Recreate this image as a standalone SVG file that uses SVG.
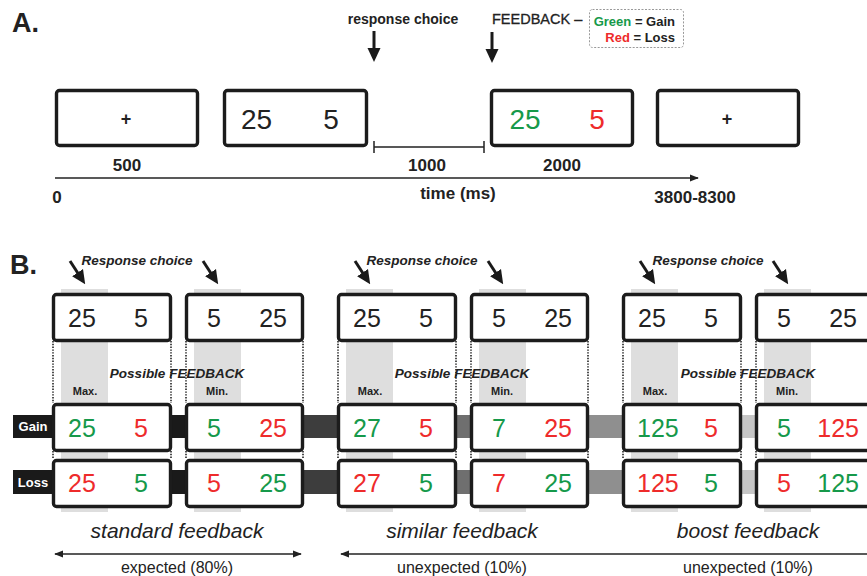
<svg xmlns="http://www.w3.org/2000/svg" width="867" height="576" viewBox="0 0 867 576">
  <defs>
    <style>
      text { font-family: "Liberation Sans", Arial, sans-serif; fill: #222; }
      .b { font-weight: bold; }
      .bi { font-weight: bold; font-style: italic; }
      .it { font-style: italic; }
      .panel { font-size: 27px; font-weight: bold; }
      .box { fill: #fff; stroke: #1c1c1c; stroke-width: 3.4; }
      .num { font-size: 28px; }
      .bn { font-size: 25px; }
      .g { fill: #16994a; }
      .r { fill: #ee2b2b; }
      .tick { font-size: 17px; font-weight: bold; }
      .axis { stroke: #222; stroke-width: 1.5; fill: none; }
      .shade { fill: #dedede; }
      .dots { stroke: #222; stroke-width: 1.6; stroke-dasharray: 1.4 1.4; fill: none; }
      .ptr { stroke: #1a1a1a; stroke-width: 3; fill: none; }
      .rowlbl { font-size: 13px; font-weight: bold; fill: #fff; }
    </style>
    <marker id="head" viewBox="0 0 14 14" refX="10" refY="7" markerWidth="14" markerHeight="14" markerUnits="userSpaceOnUse" orient="auto">
      <path d="M0,0.5 L14,7 L0,13.5 Z" fill="#1a1a1a"/>
    </marker>
    <marker id="tip" viewBox="0 0 10 10" refX="9" refY="5" markerWidth="6" markerHeight="6" orient="auto-start-reverse">
      <path d="M0,1 L10,5 L0,9 Z" fill="#222"/>
    </marker>
  </defs>

  <!-- ===== Panel A: trial timeline ===== -->
  <text class="panel" x="12" y="32">A.</text>

  <g id="a-fix1">
    <rect class="box" x="56.5" y="90.5" width="141" height="55" rx="3"/>
    <text class="b" x="126" y="125" font-size="18" text-anchor="middle">+</text>
  </g>
  <g id="a-choice">
    <rect class="box" x="224.5" y="90.5" width="142" height="55" rx="3"/>
    <text class="num" x="241" y="129">25</text>
    <text class="num" x="331" y="129" text-anchor="middle">5</text>
  </g>
  <g id="a-feedback">
    <rect class="box" x="491.5" y="90.5" width="141" height="55" rx="3"/>
    <text class="num g" x="525" y="129" text-anchor="middle">25</text>
    <text class="num r" x="597" y="129" text-anchor="middle">5</text>
  </g>
  <g id="a-fix2">
    <rect class="box" x="657.5" y="90.5" width="141" height="55" rx="3"/>
    <text class="b" x="727" y="125" font-size="18" text-anchor="middle">+</text>
  </g>

  <g id="a-annotations">
    <text class="b" x="403" y="24" font-size="14" text-anchor="middle">response choice</text>
    <text x="492" y="24" font-size="14.5" stroke="#222" stroke-width="0.3">FEEDBACK –</text>
    <g id="legend">
      <rect x="589.5" y="9.5" width="94" height="38" rx="3" fill="#fff" stroke="#999" stroke-width="1" stroke-dasharray="2 1.5"/>
      <text class="b" x="675" y="26" font-size="13" text-anchor="end"><tspan class="g">Green</tspan> = Gain</text>
      <text class="b" x="675" y="42" font-size="13" text-anchor="end"><tspan class="r">Red</tspan> = Loss</text>
    </g>
  </g>

  <g id="a-connectors">
    <line class="ptr" x1="374" y1="31" x2="374" y2="58" marker-end="url(#head)"/>
    <line class="ptr" x1="492" y1="32" x2="492" y2="59" marker-end="url(#head)"/>
    <!-- 1000 ms interval bracket -->
    <path class="axis" d="M374,141 V153 M374,147 H484 M484,141 V153"/>
    <!-- time axis -->
    <line class="axis" x1="55" y1="178" x2="698" y2="178" marker-end="url(#tip)"/>
  </g>

  <g id="a-times">
    <text class="tick" x="127" y="171" text-anchor="middle">500</text>
    <text class="tick" x="427" y="171" text-anchor="middle">1000</text>
    <text class="tick" x="562" y="171" text-anchor="middle">2000</text>
    <text class="tick" x="57" y="203" text-anchor="middle">0</text>
    <text class="tick" x="458" y="199" text-anchor="middle" font-size="18">time (ms)</text>
    <text class="tick" x="695" y="203" text-anchor="middle" font-size="18">3800-8300</text>
  </g>

  <!-- ===== Panel B: feedback conditions ===== -->
  <text class="panel" x="10" y="274">B.</text>

  <!-- Gain / Loss row bands -->
  <g id="row-bands">
    <rect x="13" y="415" width="40" height="23" fill="#1a1a1a"/>
    <rect x="13" y="470" width="40" height="24" fill="#1a1a1a"/>
    <text class="rowlbl" x="33" y="431" text-anchor="middle">Gain</text>
    <text class="rowlbl" x="33" y="487" text-anchor="middle">Loss</text>
    <rect x="170" y="415" width="16" height="23" fill="#1a1a1a"/>
    <rect x="170" y="470" width="16" height="24" fill="#1a1a1a"/>
    <rect x="302" y="415" width="36" height="23" fill="#3d3d3d"/>
    <rect x="302" y="470" width="36" height="24" fill="#3d3d3d"/>
    <rect x="456" y="415" width="14" height="23" fill="#6f6f6f"/>
    <rect x="456" y="470" width="14" height="24" fill="#6f6f6f"/>
    <rect x="587" y="415" width="36" height="23" fill="#8f8f8f"/>
    <rect x="587" y="470" width="36" height="24" fill="#8f8f8f"/>
    <rect x="741" y="415" width="14" height="23" fill="#c6c6c6"/>
    <rect x="741" y="470" width="14" height="24" fill="#c6c6c6"/>
  </g>

  <!-- standard feedback -->
  <g id="standard" transform="translate(52,0)">
    <rect class="shade" x="9" y="289" width="47" height="223"/>
    <rect class="shade" x="142" y="289" width="47" height="223"/>
    <path class="dots" d="M1,341 V403 M119,341 V403 M134,341 V403 M251,341 V403 M1,451 V459 M119,451 V459 M134,451 V459 M251,451 V459"/>
    <text class="bi" x="85" y="265" font-size="13.5" text-anchor="middle">Response choice</text>
    <line class="ptr" x1="18" y1="261" x2="31" y2="281" marker-end="url(#head)"/>
    <line class="ptr" x1="151" y1="261" x2="164" y2="281" marker-end="url(#head)"/>
    <g id="standard-choice-max">
      <rect class="box" x="1.5" y="294.5" width="117" height="46" rx="3"/>
      <text class="bn" x="16" y="327">25</text>
      <text class="bn" x="96" y="327" text-anchor="end">5</text>
    </g>
    <g id="standard-choice-min">
      <rect class="box" x="134.5" y="294.5" width="116" height="46" rx="3"/>
      <text class="bn" x="155" y="327">5</text>
      <text class="bn" x="235" y="327" text-anchor="end">25</text>
    </g>
    <text class="bi" x="125" y="378" font-size="13.5" text-anchor="middle">Possible FEEDBACK</text>
    <text class="b" x="33" y="395" font-size="11" text-anchor="middle">Max.</text>
    <text class="b" x="165" y="395" font-size="11" text-anchor="middle">Min.</text>
    <g id="standard-gain-max">
      <rect class="box" x="1.5" y="404.5" width="117" height="46" rx="3"/>
      <text class="bn g" x="16" y="437">25</text>
      <text class="bn r" x="96" y="437" text-anchor="end">5</text>
    </g>
    <g id="standard-gain-min">
      <rect class="box" x="134.5" y="404.5" width="116" height="46" rx="3"/>
      <text class="bn g" x="155" y="437">5</text>
      <text class="bn r" x="235" y="437" text-anchor="end">25</text>
    </g>
    <g id="standard-loss-max">
      <rect class="box" x="1.5" y="460.5" width="117" height="46" rx="3"/>
      <text class="bn r" x="16" y="492">25</text>
      <text class="bn g" x="96" y="492" text-anchor="end">5</text>
    </g>
    <g id="standard-loss-min">
      <rect class="box" x="134.5" y="460.5" width="116" height="46" rx="3"/>
      <text class="bn r" x="155" y="492">5</text>
      <text class="bn g" x="235" y="492" text-anchor="end">25</text>
    </g>
    <text class="it" x="125" y="538" font-size="21" text-anchor="middle">standard feedback</text>
  </g>

  <!-- similar feedback -->
  <g id="similar" transform="translate(337,0)">
    <rect class="shade" x="9" y="289" width="47" height="223"/>
    <rect class="shade" x="142" y="289" width="47" height="223"/>
    <path class="dots" d="M1,341 V403 M119,341 V403 M134,341 V403 M251,341 V403 M1,451 V459 M119,451 V459 M134,451 V459 M251,451 V459"/>
    <text class="bi" x="85" y="265" font-size="13.5" text-anchor="middle">Response choice</text>
    <line class="ptr" x1="18" y1="261" x2="31" y2="281" marker-end="url(#head)"/>
    <line class="ptr" x1="151" y1="261" x2="164" y2="281" marker-end="url(#head)"/>
    <g id="similar-choice-max">
      <rect class="box" x="1.5" y="294.5" width="117" height="46" rx="3"/>
      <text class="bn" x="16" y="327">25</text>
      <text class="bn" x="96" y="327" text-anchor="end">5</text>
    </g>
    <g id="similar-choice-min">
      <rect class="box" x="134.5" y="294.5" width="116" height="46" rx="3"/>
      <text class="bn" x="155" y="327">5</text>
      <text class="bn" x="235" y="327" text-anchor="end">25</text>
    </g>
    <text class="bi" x="125" y="378" font-size="13.5" text-anchor="middle">Possible FEEDBACK</text>
    <text class="b" x="33" y="395" font-size="11" text-anchor="middle">Max.</text>
    <text class="b" x="165" y="395" font-size="11" text-anchor="middle">Min.</text>
    <g id="similar-gain-max">
      <rect class="box" x="1.5" y="404.5" width="117" height="46" rx="3"/>
      <text class="bn g" x="16" y="437">27</text>
      <text class="bn r" x="96" y="437" text-anchor="end">5</text>
    </g>
    <g id="similar-gain-min">
      <rect class="box" x="134.5" y="404.5" width="116" height="46" rx="3"/>
      <text class="bn g" x="155" y="437">7</text>
      <text class="bn r" x="235" y="437" text-anchor="end">25</text>
    </g>
    <g id="similar-loss-max">
      <rect class="box" x="1.5" y="460.5" width="117" height="46" rx="3"/>
      <text class="bn r" x="16" y="492">27</text>
      <text class="bn g" x="96" y="492" text-anchor="end">5</text>
    </g>
    <g id="similar-loss-min">
      <rect class="box" x="134.5" y="460.5" width="116" height="46" rx="3"/>
      <text class="bn r" x="155" y="492">7</text>
      <text class="bn g" x="235" y="492" text-anchor="end">25</text>
    </g>
    <text class="it" x="125" y="538" font-size="21" text-anchor="middle">similar feedback</text>
  </g>

  <!-- boost feedback -->
  <g id="boost" transform="translate(622,0)">
    <rect class="shade" x="9" y="289" width="47" height="223"/>
    <rect class="shade" x="142" y="289" width="47" height="223"/>
    <path class="dots" d="M1,341 V403 M119,341 V403 M134,341 V403 M251,341 V403 M1,451 V459 M119,451 V459 M134,451 V459 M251,451 V459"/>
    <text class="bi" x="86" y="265" font-size="13.5" text-anchor="middle">Response choice</text>
    <line class="ptr" x1="18" y1="261" x2="31" y2="281" marker-end="url(#head)"/>
    <line class="ptr" x1="151" y1="261" x2="164" y2="281" marker-end="url(#head)"/>
    <g id="boost-choice-max">
      <rect class="box" x="1.5" y="294.5" width="117" height="46" rx="3"/>
      <text class="bn" x="16" y="327">25</text>
      <text class="bn" x="96" y="327" text-anchor="end">5</text>
    </g>
    <g id="boost-choice-min">
      <rect class="box" x="134.5" y="294.5" width="116" height="46" rx="3"/>
      <text class="bn" x="155" y="327">5</text>
      <text class="bn" x="235" y="327" text-anchor="end">25</text>
    </g>
    <text class="bi" x="126" y="378" font-size="13.5" text-anchor="middle">Possible FEEDBACK</text>
    <text class="b" x="33" y="395" font-size="11" text-anchor="middle">Max.</text>
    <text class="b" x="165" y="395" font-size="11" text-anchor="middle">Min.</text>
    <g id="boost-gain-max">
      <rect class="box" x="1.5" y="404.5" width="117" height="46" rx="3"/>
      <text class="bn g" x="15" y="437">125</text>
      <text class="bn r" x="96" y="437" text-anchor="end">5</text>
    </g>
    <g id="boost-gain-min">
      <rect class="box" x="134.5" y="404.5" width="116" height="46" rx="3"/>
      <text class="bn g" x="155" y="437">5</text>
      <text class="bn r" x="237" y="437" text-anchor="end">125</text>
    </g>
    <g id="boost-loss-max">
      <rect class="box" x="1.5" y="460.5" width="117" height="46" rx="3"/>
      <text class="bn r" x="15" y="492">125</text>
      <text class="bn g" x="96" y="492" text-anchor="end">5</text>
    </g>
    <g id="boost-loss-min">
      <rect class="box" x="134.5" y="460.5" width="116" height="46" rx="3"/>
      <text class="bn r" x="155" y="492">5</text>
      <text class="bn g" x="237" y="492" text-anchor="end">125</text>
    </g>
    <text class="it" x="126" y="538" font-size="21" text-anchor="middle">boost feedback</text>
  </g>

  <!-- expectation ranges -->
  <g id="b-connectors">
    <line class="axis" x1="55" y1="554" x2="301" y2="554" marker-start="url(#tip)" marker-end="url(#tip)"/>
    <line class="axis" x1="341" y1="554" x2="880" y2="554" marker-start="url(#tip)"/>
  </g>
  <g id="b-ranges">
    <text x="177" y="573" font-size="16" text-anchor="middle">expected (80%)</text>
    <text x="462" y="573" font-size="16" text-anchor="middle">unexpected (10%)</text>
    <text x="748" y="573" font-size="16" text-anchor="middle">unexpected (10%)</text>
  </g>
</svg>
